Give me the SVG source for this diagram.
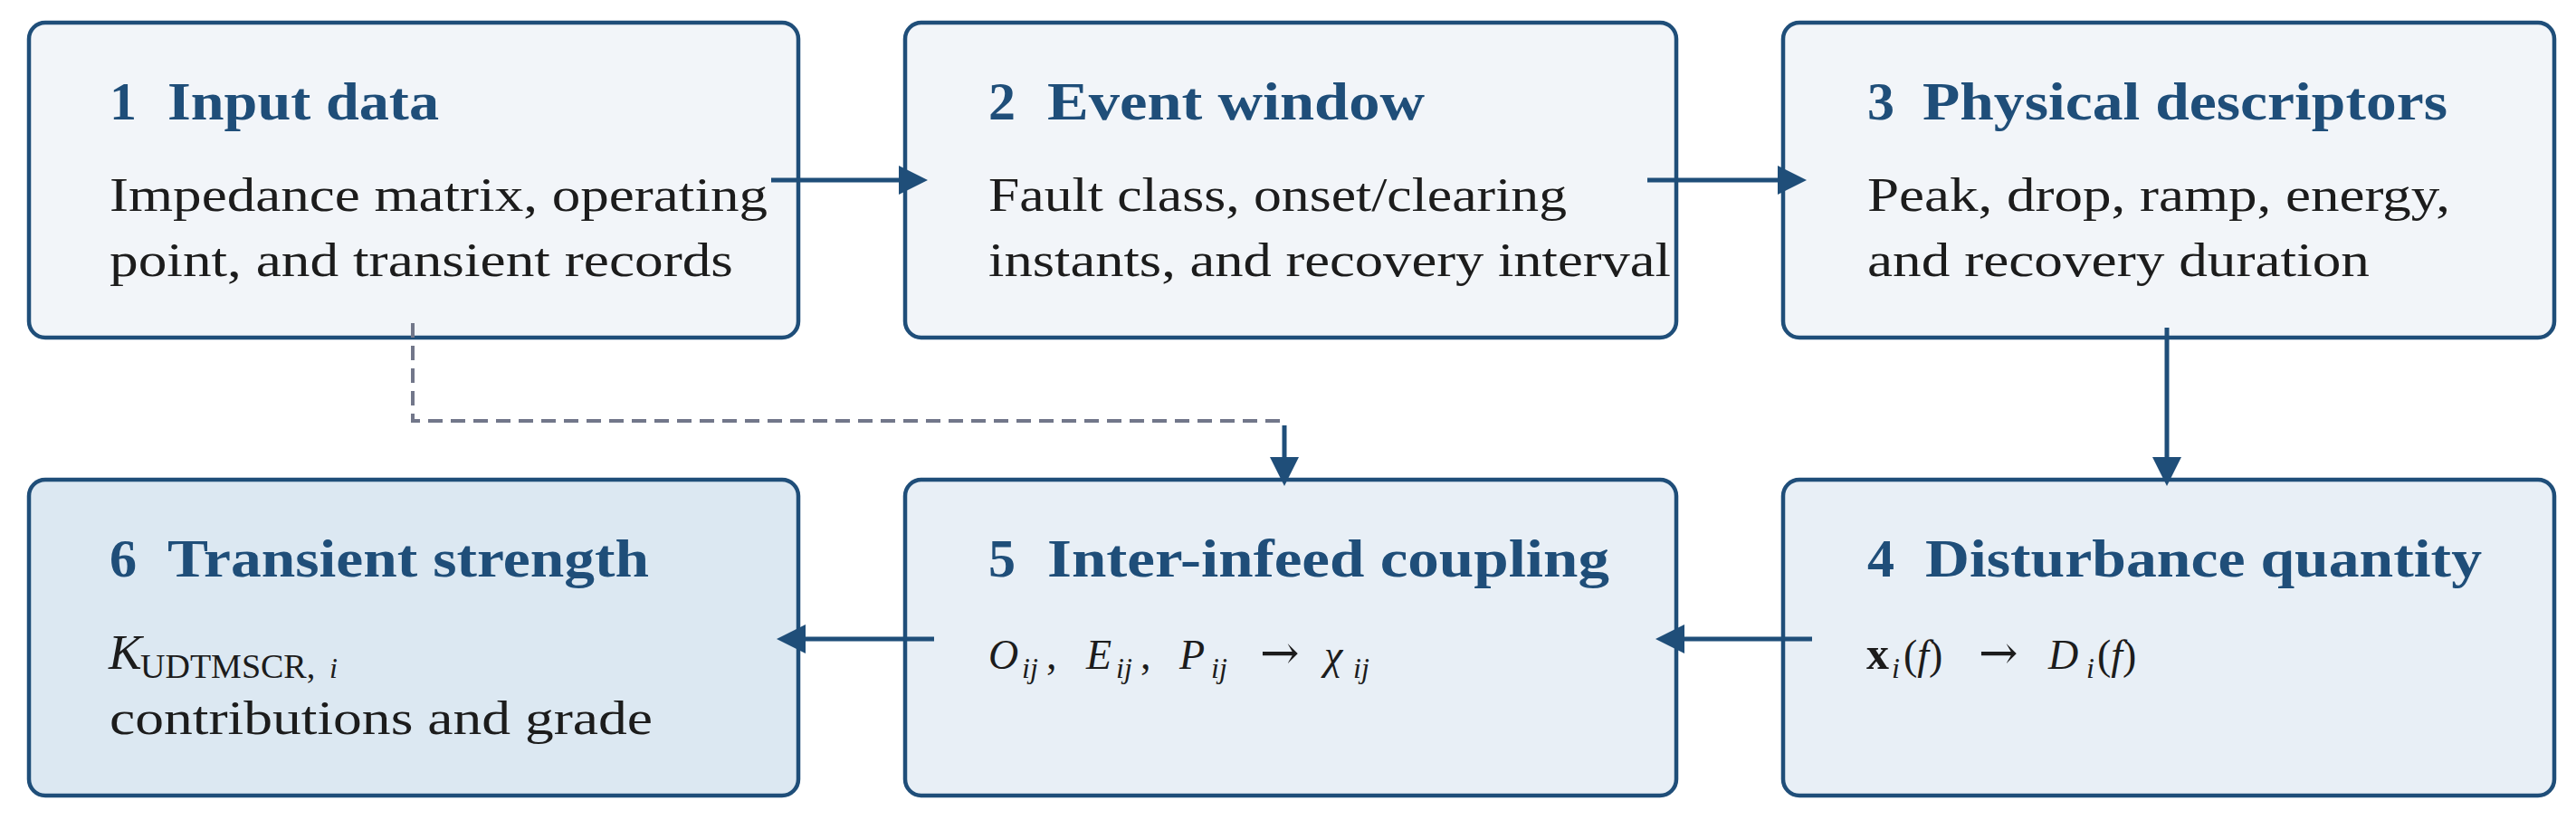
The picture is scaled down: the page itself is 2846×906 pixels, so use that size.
<svg xmlns="http://www.w3.org/2000/svg" width="2846" height="906" viewBox="0 0 2846 906">
<style>
.box{stroke:#1f4e79;stroke-width:4.5}
.top{fill:#f2f5f9}
.mid{fill:#e8eff6}
.hl{fill:#dce8f2}
.num{font-family:"Liberation Serif",serif;font-weight:bold;font-size:60px;fill:#1f4e79}
.ttl{font-family:"Liberation Serif",serif;font-weight:bold;font-size:60px;fill:#1f4e79}
.body{font-family:"Liberation Serif",serif;font-size:53px;fill:#1c1c1c}
.m{font-family:"Liberation Serif",serif;font-size:46px;fill:#1c1c1c}
.mi{font-style:italic}
.sub{font-size:32px;font-style:italic}
.arr{font-family:"DejaVu Serif",serif;font-size:52px}
.conn{stroke:#1f4e79;stroke-width:5;fill:none}
.dash{stroke:#72778a;stroke-width:4;fill:none;stroke-dasharray:16 9}
</style>
<defs>
<marker id="ah" markerUnits="userSpaceOnUse" markerWidth="32" markerHeight="32" refX="16" refY="16" orient="auto">
<path d="M0,0 L32,16 L0,32 z" fill="#1f4e79"/>
</marker>
</defs>

<g id="node1">
<rect class="box top" x="32" y="25" width="850" height="348" rx="18"/>
<text class="num" x="121" y="132">1</text>
<text class="ttl" x="185" y="132" textLength="300" lengthAdjust="spacingAndGlyphs">Input data</text>
<text class="body" x="121" y="233" textLength="727" lengthAdjust="spacingAndGlyphs">Impedance matrix, operating</text>
<text class="body" x="121" y="305" textLength="689" lengthAdjust="spacingAndGlyphs">point, and transient records</text>
</g>

<g id="node2">
<rect class="box top" x="1000" y="25" width="852" height="348" rx="18"/>
<text class="num" x="1092" y="132">2</text>
<text class="ttl" x="1157" y="132" textLength="417" lengthAdjust="spacingAndGlyphs">Event window</text>
<text class="body" x="1092" y="233" textLength="639" lengthAdjust="spacingAndGlyphs">Fault class, onset/clearing</text>
<text class="body" x="1092" y="305" textLength="754" lengthAdjust="spacingAndGlyphs">instants, and recovery interval</text>
</g>

<g id="node3">
<rect class="box top" x="1970" y="25" width="852" height="348" rx="18"/>
<text class="num" x="2063" y="132">3</text>
<text class="ttl" x="2124" y="132" textLength="580" lengthAdjust="spacingAndGlyphs">Physical descriptors</text>
<text class="body" x="2063" y="233" textLength="644" lengthAdjust="spacingAndGlyphs">Peak, drop, ramp, energy,</text>
<text class="body" x="2063" y="305" textLength="555" lengthAdjust="spacingAndGlyphs">and recovery duration</text>
</g>

<g id="node4">
<rect class="box mid" x="1970" y="530" width="852" height="349" rx="18"/>
<text class="num" x="2063" y="637">4</text>
<text class="ttl" x="2127" y="637" textLength="615" lengthAdjust="spacingAndGlyphs">Disturbance quantity</text>
<text class="m" y="739"><tspan x="2062" font-weight="bold" font-size="50">x</tspan><tspan class="sub" x="2090" y="749">i</tspan><tspan x="2103" y="739">(</tspan><tspan class="mi">f</tspan><tspan>)</tspan><tspan class="arr" x="2186">→</tspan><tspan class="mi" x="2263">D</tspan><tspan class="sub" x="2305" y="749">i</tspan><tspan x="2317" y="739">(</tspan><tspan class="mi">f</tspan><tspan>)</tspan></text>
</g>

<g id="node5">
<rect class="box mid" x="1000" y="530" width="852" height="349" rx="18"/>
<text class="num" x="1092" y="637">5</text>
<text class="ttl" x="1157" y="637" textLength="621" lengthAdjust="spacingAndGlyphs">Inter-infeed coupling</text>
<text class="m" y="739"><tspan class="mi" x="1092">O</tspan><tspan class="sub" x="1129" y="749">ij</tspan><tspan x="1156" y="739">,</tspan><tspan class="mi" x="1200">E</tspan><tspan class="sub" x="1233" y="749">ij</tspan><tspan x="1260" y="739">,</tspan><tspan class="mi" x="1303">P</tspan><tspan class="sub" x="1338" y="749">ij</tspan><tspan class="arr" x="1392" y="739">→</tspan><tspan class="mi" x="1463">χ</tspan><tspan class="sub" x="1495" y="749">ij</tspan></text>
</g>

<g id="node6">
<rect class="box hl" x="32" y="530" width="850" height="349" rx="18"/>
<text class="num" x="121" y="637">6</text>
<text class="ttl" x="185" y="637" textLength="532" lengthAdjust="spacingAndGlyphs">Transient strength</text>
<text class="m" y="739"><tspan class="mi" x="120" font-size="55">K</tspan><tspan x="155" y="749" font-size="38">UDTMSCR,</tspan><tspan class="sub" x="364" font-size="36">i</tspan></text>
<text class="body" x="121" y="811" textLength="600" lengthAdjust="spacingAndGlyphs">contributions and grade</text>
</g>

<g id="connectors">
<path class="dash" d="M456,357 L456,465 L1416,465"/>
<line class="conn" x1="852" y1="199" x2="1009" y2="199" marker-end="url(#ah)"/>
<line class="conn" x1="1820" y1="199" x2="1980" y2="199" marker-end="url(#ah)"/>
<line class="conn" x1="2394" y1="362" x2="2394" y2="521" marker-end="url(#ah)"/>
<line class="conn" x1="2002" y1="706" x2="1845" y2="706" marker-end="url(#ah)"/>
<line class="conn" x1="1032" y1="706" x2="874" y2="706" marker-end="url(#ah)"/>
<line class="conn" x1="1419" y1="470" x2="1419" y2="521" marker-end="url(#ah)"/>
</g>
</svg>
